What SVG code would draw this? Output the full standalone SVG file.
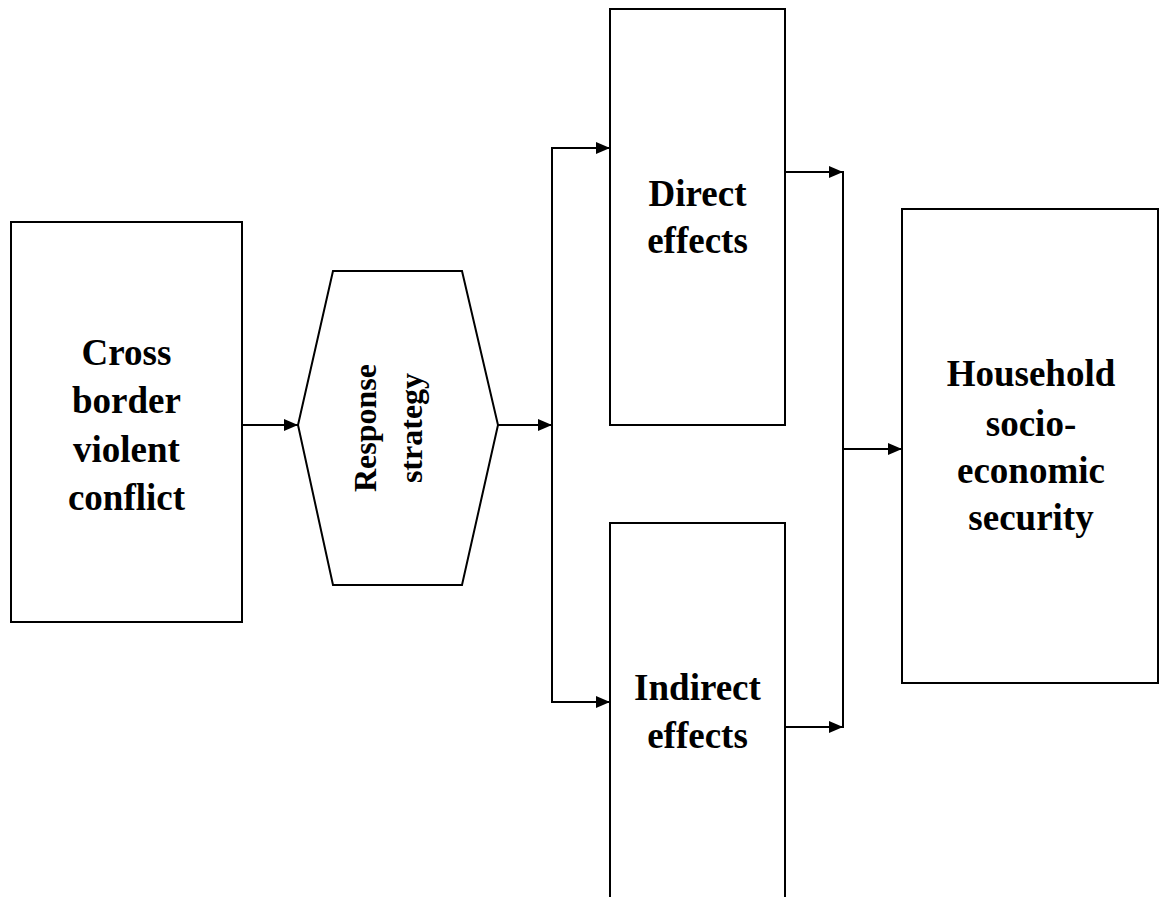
<svg xmlns="http://www.w3.org/2000/svg" width="1160" height="897" viewBox="0 0 1160 897">
<style>
.box{fill:#fff;stroke:#000;stroke-width:2}
.lbl{font-family:"Liberation Serif","Times New Roman",serif;font-weight:bold;font-size:37px;fill:#000;text-anchor:middle}
.lbl2{font-family:"Liberation Serif","Times New Roman",serif;font-weight:bold;font-size:32px;fill:#000;text-anchor:middle}
.con{fill:none;stroke:#000;stroke-width:2}
</style>
<defs>
<marker id="ah" markerWidth="14" markerHeight="12" refX="14" refY="6" orient="auto" markerUnits="userSpaceOnUse">
<path d="M0,0 L14,6 L0,12 Z" fill="#000"/>
</marker>
</defs>
<rect width="1160" height="897" fill="#fff"/>
<g id="conflict">
<rect class="box" x="11" y="222" width="231" height="400"/>
<text class="lbl" x="126.5" y="365">Cross</text>
<text class="lbl" x="126.5" y="413">border</text>
<text class="lbl" x="126.5" y="462">violent</text>
<text class="lbl" x="126.5" y="510">conflict</text>
</g>
<g id="response">
<polygon class="box" points="333,271 462,271 498,425 462,585 333,585 298,425"/>
<g transform="translate(398,428) rotate(-90)">
<text class="lbl2" x="0" y="-22">Response</text>
<text class="lbl2" x="0" y="24">strategy</text>
</g>
</g>
<g id="direct">
<rect class="box" x="610" y="9" width="175" height="416"/>
<text class="lbl" x="697.5" y="206">Direct</text>
<text class="lbl" x="697.5" y="253">effects</text>
</g>
<g id="indirect">
<rect class="box" x="610" y="523" width="175" height="400"/>
<text class="lbl" x="697.5" y="700">Indirect</text>
<text class="lbl" x="697.5" y="748">effects</text>
</g>
<g id="household">
<rect class="box" x="902" y="209" width="256" height="474"/>
<text class="lbl" x="1031" y="386">Household</text>
<text class="lbl" x="1031" y="436">socio-</text>
<text class="lbl" x="1031" y="483">economic</text>
<text class="lbl" x="1031" y="530">security</text>
</g>
<g id="connectors">
<line class="con" x1="242" y1="425" x2="298" y2="425" marker-end="url(#ah)"/>
<line class="con" x1="498" y1="425" x2="552" y2="425" marker-end="url(#ah)"/>
<line class="con" x1="552" y1="148" x2="552" y2="702"/>
<line class="con" x1="551" y1="148" x2="610" y2="148" marker-end="url(#ah)"/>
<line class="con" x1="551" y1="702" x2="610" y2="702" marker-end="url(#ah)"/>
<line class="con" x1="785" y1="172" x2="843" y2="172" marker-end="url(#ah)"/>
<line class="con" x1="785" y1="727" x2="843" y2="727" marker-end="url(#ah)"/>
<line class="con" x1="843" y1="171" x2="843" y2="728"/>
<line class="con" x1="843" y1="449" x2="902" y2="449" marker-end="url(#ah)"/>
</g>
</svg>
